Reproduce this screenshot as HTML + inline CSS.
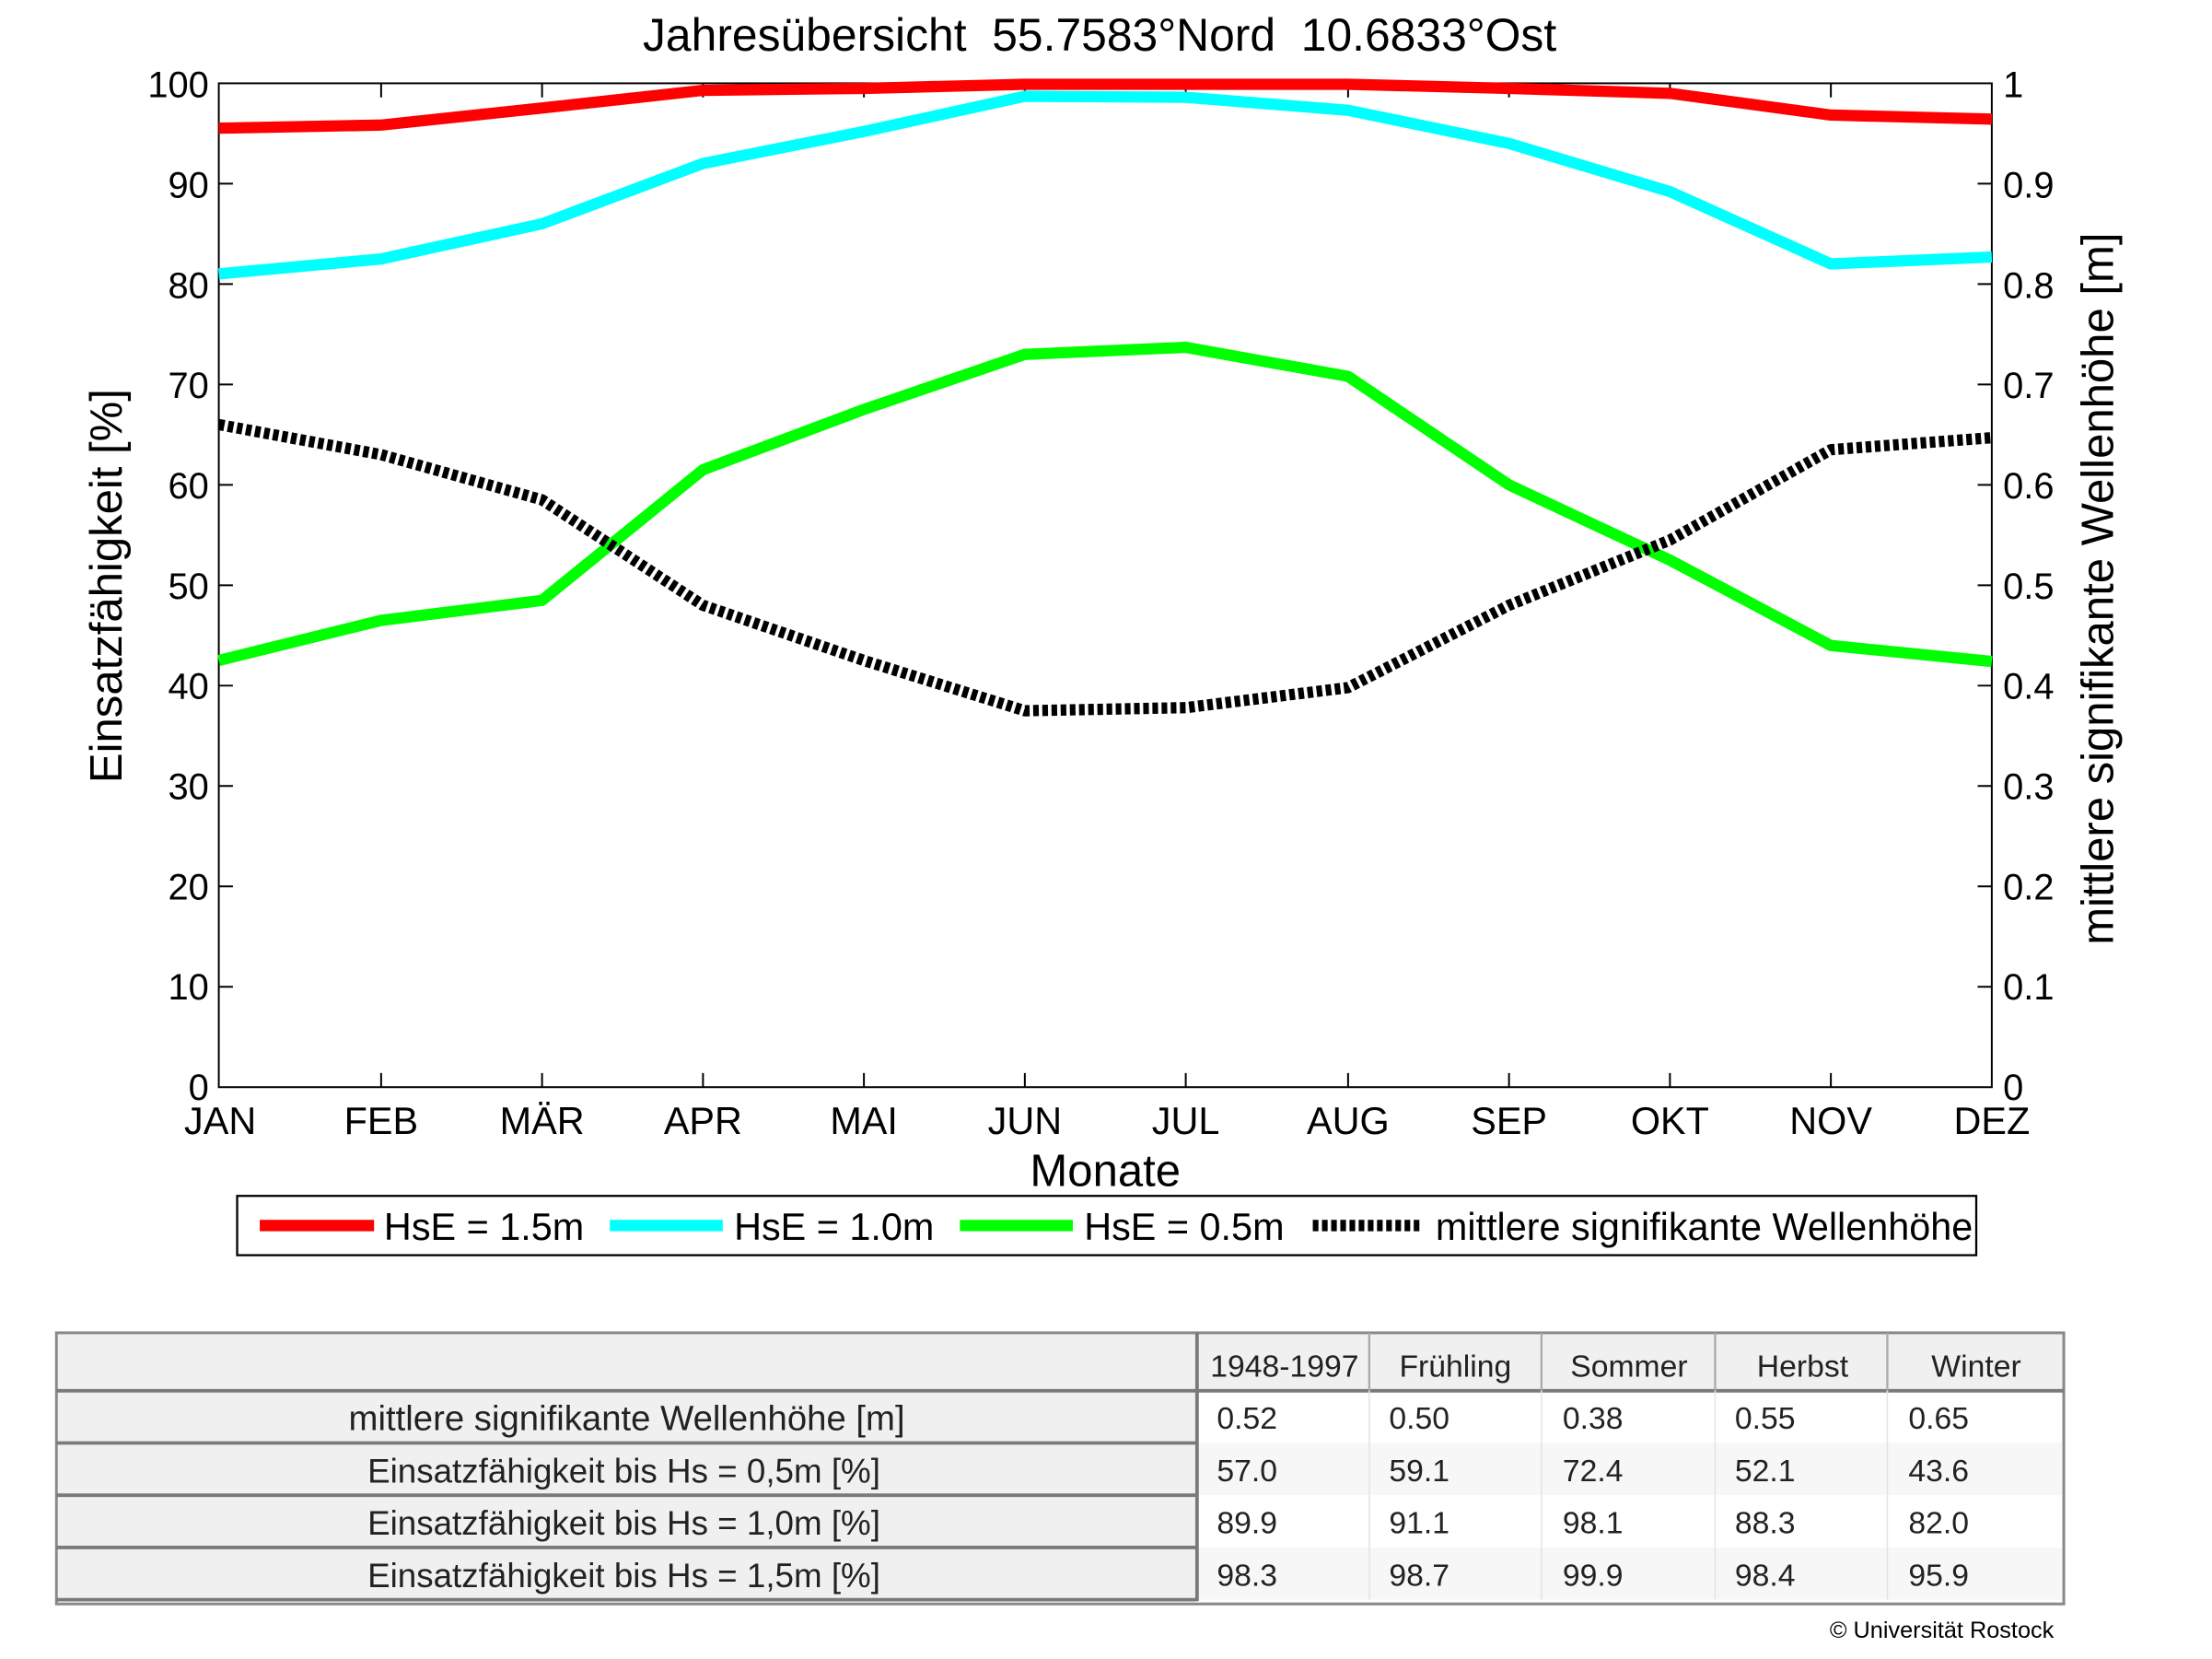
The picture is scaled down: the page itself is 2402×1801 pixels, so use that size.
<!DOCTYPE html>
<html><head><meta charset="utf-8"><style>html,body{margin:0;padding:0;background:#fff}svg{display:block}</style></head>
<body>
<svg width="2402" height="1801" viewBox="0 0 1567 1175" preserveAspectRatio="none" xmlns="http://www.w3.org/2000/svg" font-family="Liberation Sans, Arial, sans-serif">
<rect width="1567" height="1175" fill="#fff"/>
<text x="779" y="36" font-size="32.5" text-anchor="middle" xml:space="preserve">Jahresübersicht  55.7583°Nord  10.6833°Ost</text>
<g stroke="#000" stroke-width="1.3" fill="none">
<rect x="155" y="59" width="1256" height="711"/>
<path d="M155 698.9h10M155 627.8h10M155 556.7h10M155 485.6h10M155 414.5h10M155 343.4h10M155 272.3h10M155 201.2h10M155 130.1h10
M1411 698.9h-10M1411 627.8h-10M1411 556.7h-10M1411 485.6h-10M1411 414.5h-10M1411 343.4h-10M1411 272.3h-10M1411 201.2h-10M1411 130.1h-10
M270 770v-10M384 770v-10M498 770v-10M612 770v-10M726 770v-10M840 770v-10M955 770v-10M1069 770v-10M1183 770v-10M1297 770v-10
M270 59v10M384 59v10M498 59v10M612 59v10M726 59v10M840 59v10M955 59v10M1069 59v10M1183 59v10M1297 59v10"/>
</g>
<g font-size="26" text-anchor="end">
<text x="148" y="69">100</text><text x="148" y="140">90</text><text x="148" y="211">80</text><text x="148" y="282">70</text><text x="148" y="353">60</text><text x="148" y="424">50</text><text x="148" y="495">40</text><text x="148" y="566">30</text><text x="148" y="637">20</text><text x="148" y="708">10</text><text x="148" y="779">0</text>
</g>
<g font-size="26">
<text x="1419" y="69">1</text><text x="1419" y="140">0.9</text><text x="1419" y="211">0.8</text><text x="1419" y="282">0.7</text><text x="1419" y="353">0.6</text><text x="1419" y="424">0.5</text><text x="1419" y="495">0.4</text><text x="1419" y="566">0.3</text><text x="1419" y="637">0.2</text><text x="1419" y="708">0.1</text><text x="1419" y="779">0</text>
</g>
<g font-size="27" text-anchor="middle">
<text x="156" y="803">JAN</text><text x="270" y="803">FEB</text><text x="384" y="803">MÄR</text><text x="498" y="803">APR</text><text x="612" y="803">MAI</text><text x="726" y="803">JUN</text><text x="840" y="803">JUL</text><text x="955" y="803">AUG</text><text x="1069" y="803">SEP</text><text x="1183" y="803">OKT</text><text x="1297" y="803">NOV</text><text x="1411" y="803">DEZ</text>
<text x="783" y="840" font-size="32">Monate</text>
<text transform="translate(86,415) rotate(-90)" font-size="32">Einsatzfähigkeit [%]</text>
<text transform="translate(1497,417) rotate(-90)" font-size="32">mittlere signifikante Wellenhöhe [m]</text>
</g>
<g fill="none" stroke-width="8" stroke-linejoin="round">
<polyline stroke="#ff0000" points="155,90.8 270,88.6 384,76.5 498,64 612,62.6 726,59.7 840,59.7 955,59.7 1069,62.6 1183,66.1 1297,81.5 1411,84.4"/>
<polyline stroke="#00ffff" points="155,194 270,183.4 384,158.5 498,115.8 612,93.1 726,68.2 840,68.9 955,78.1 1069,101.6 1183,135.7 1297,186.9 1411,182"/>
<polyline stroke="#00ff00" points="155,467.8 270,439.4 384,425.2 498,332.7 612,290 726,251 840,246 955,266.6 1069,343.4 1183,396.7 1297,457.2 1411,468.5"/>
<polyline stroke="#000" stroke-dasharray="4 2.5" points="155,300.7 270,322 384,354 498,428.7 612,467.8 726,503.4 840,501.2 955,487 1069,428.7 1183,382.5 1297,318.5 1411,310"/>
</g>
<rect x="168" y="847" width="1232" height="42" fill="#fff" stroke="#000" stroke-width="1.5"/>
<g stroke-width="8">
<line x1="184" y1="868" x2="265" y2="868" stroke="#ff0000"/>
<line x1="432" y1="868" x2="512" y2="868" stroke="#00ffff"/>
<line x1="680" y1="868" x2="760" y2="868" stroke="#00ff00"/>
<line x1="930" y1="868" x2="1008" y2="868" stroke="#000" stroke-dasharray="4 2.5"/>
</g>
<g font-size="27">
<text x="272" y="878">HsE = 1.5m</text><text x="520" y="878">HsE = 1.0m</text><text x="768" y="878">HsE = 0.5m</text><text x="1017" y="878">mittlere signifikante Wellenhöhe</text>
</g>
<rect x="40" y="944" width="1422" height="192" fill="#fff" stroke="#8a8a8a" stroke-width="2"/>
<rect x="41" y="945" width="1420" height="40" fill="#f0f0f0"/>
<rect x="41" y="985" width="807" height="148" fill="#f0f0f0"/>
<rect x="848" y="1022" width="613" height="37" fill="#f7f7f7"/>
<rect x="848" y="1096" width="613" height="37" fill="#f7f7f7"/>
<g stroke="#7a7a7a" stroke-width="2.5">
<line x1="40" y1="985" x2="1462" y2="985"/>
<line x1="40" y1="1022" x2="848" y2="1022"/>
<line x1="40" y1="1059" x2="848" y2="1059"/>
<line x1="40" y1="1096" x2="848" y2="1096"/>
<line x1="40" y1="1133" x2="848" y2="1133"/>
<line x1="848" y1="944" x2="848" y2="1134"/>
</g>
<g stroke="#e4e4e4" stroke-width="1">
<line x1="970" y1="985" x2="970" y2="1133"/><line x1="1092" y1="985" x2="1092" y2="1133"/><line x1="1215" y1="985" x2="1215" y2="1133"/><line x1="1337" y1="985" x2="1337" y2="1133"/>
</g>
<g stroke="#aaa" stroke-width="1.5">
<line x1="970" y1="944" x2="970" y2="985"/><line x1="1092" y1="944" x2="1092" y2="985"/><line x1="1215" y1="944" x2="1215" y2="985"/><line x1="1337" y1="944" x2="1337" y2="985"/>
</g>
<g font-family="Liberation Sans Narrow, Liberation Sans, sans-serif" font-size="22" fill="#222">
<g text-anchor="middle">
<text x="910" y="975">1948-1997</text><text x="1031" y="975">Frühling</text><text x="1154" y="975">Sommer</text><text x="1277" y="975">Herbst</text><text x="1400" y="975">Winter</text>
<text x="444" y="1013" font-size="25">mittlere signifikante Wellenhöhe [m]</text>
<text x="442" y="1050" font-size="24">Einsatzfähigkeit bis Hs = 0,5m [%]</text>
<text x="442" y="1087" font-size="24">Einsatzfähigkeit bis Hs = 1,0m [%]</text>
<text x="442" y="1124" font-size="24">Einsatzfähigkeit bis Hs = 1,5m [%]</text>
</g>
<text x="862" y="1012">0.52</text><text x="984" y="1012">0.50</text><text x="1107" y="1012">0.38</text><text x="1229" y="1012">0.55</text><text x="1352" y="1012">0.65</text>
<text x="862" y="1049">57.0</text><text x="984" y="1049">59.1</text><text x="1107" y="1049">72.4</text><text x="1229" y="1049">52.1</text><text x="1352" y="1049">43.6</text>
<text x="862" y="1086">89.9</text><text x="984" y="1086">91.1</text><text x="1107" y="1086">98.1</text><text x="1229" y="1086">88.3</text><text x="1352" y="1086">82.0</text>
<text x="862" y="1123">98.3</text><text x="984" y="1123">98.7</text><text x="1107" y="1123">99.9</text><text x="1229" y="1123">98.4</text><text x="1352" y="1123">95.9</text>
</g>
<text x="1455" y="1160" font-size="16.5" text-anchor="end">© Universität Rostock</text>
</svg>
</body></html>
